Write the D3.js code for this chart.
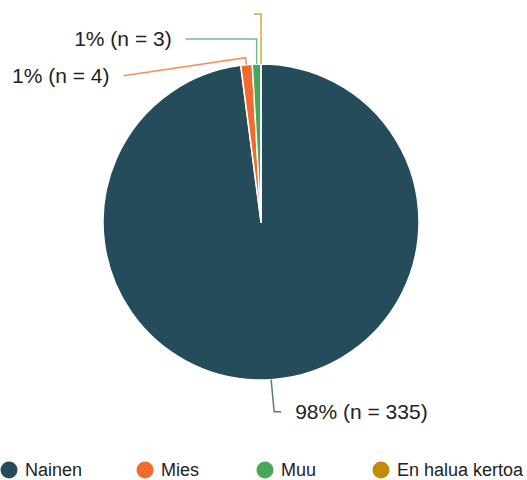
<!DOCTYPE html>
<html>
<head>
<meta charset="utf-8">
<script src="https://cdn.jsdelivr.net/npm/d3@7"></script>
<style>
  html, body { margin: 0; padding: 0; background: #fff; }
  svg { display: block; font-family: "Liberation Sans", Arial, sans-serif; }
</style>
</head>
<body>
<svg id="chart" width="527" height="480"></svg>
<script>
// Respondents by gender
const categories = ["Nainen", "Mies", "Muu", "En halua kertoa"];
const counts = [335, 4, 3, 0];
const percentLabels = ["98%", "1%", "1%", ""];
const colors = ["#244c5a", "#f26a2c", "#47a85a", "#c48b00"];

const svg = d3.select("#chart");
const cx = 261, cy = 222, radius = 158;

const data = categories.map((c, i) => ({ name: c, value: counts[i], pct: percentLabels[i], color: colors[i] }));

const pie = d3.pie().sort(null).value(d => d.value).startAngle(0).endAngle(2 * Math.PI);
const arcs = pie(data);
const arc = d3.arc().innerRadius(0).outerRadius(radius);

const g = svg.append("g").attr("transform", `translate(${cx},${cy})`);

g.selectAll("path.slice")
  .data(arcs)
  .join("path")
  .attr("class", "slice")
  .attr("d", arc)
  .attr("fill", d => d.data.color)
  .attr("stroke", "#fff")
  .attr("stroke-width", 1.5)
  .attr("stroke-linejoin", "round");

// Leader line routing for each slice label: elbow offset from the arc point, then the end offset
const routing = [
  { elbow: [3, 32], end: [7, 0], anchor: "start" },
  { elbow: [-1, -7], end: [-122, 18], anchor: "end" },
  { elbow: [0, -25], end: [-71, 0], anchor: "end" },
  { elbow: [0, -50], end: [-7, 0], anchor: "end" }
];

const mid = d => (d.startAngle + d.endAngle) / 2;
const onArc = (a, r) => [r * Math.sin(a), -r * Math.cos(a)];

arcs.forEach((d, i) => {
  const a = mid(d);
  const p0 = onArc(a, radius);
  const rt = routing[i];
  const p1 = [p0[0] + rt.elbow[0], p0[1] + rt.elbow[1]];
  const p2 = [p1[0] + rt.end[0], p1[1] + rt.end[1]];
  g.append("polyline")
    .attr("points", [p0, p1, p2].map(p => p.join(",")).join(" "))
    .attr("fill", "none")
    .attr("stroke", d.data.color)
    .attr("stroke-opacity", 0.75)
    .attr("stroke-width", 1.5);
  if (d.data.pct) {
    const gap = 14;
    g.append("text")
      .attr("x", p2[0] + (rt.anchor === "start" ? gap : -gap))
      .attr("y", p2[1])
      .attr("dy", "0.35em")
      .attr("text-anchor", rt.anchor)
      .attr("font-size", 21)
      .attr("fill", "#222")
      .text(`${d.data.pct} (n = ${d.data.value})`);
  }
});

// Legend
const legendX = [9, 145, 265, 381];
const legend = svg.append("g").attr("transform", "translate(0,470)");
const items = legend.selectAll("g.item")
  .data(data)
  .join("g")
  .attr("class", "item")
  .attr("transform", (d, i) => `translate(${legendX[i]},0)`);
items.append("circle").attr("r", 8.5).attr("fill", d => d.color);
items.append("text")
  .attr("x", 16)
  .attr("dy", "0.35em")
  .attr("font-size", 18)
  .attr("fill", "#222")
  .text(d => d.name);
</script>
</body>
</html>
